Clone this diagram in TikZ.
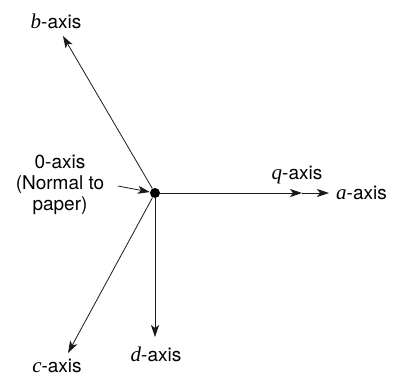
\documentclass[tikz,border=0pt]{standalone}
\usepackage{fontspec}
\setmainfont{TeX Gyre Heros}
\newfontfamily\letterfont{Liberation Serif}
\usepackage{tikz}
\usetikzlibrary{arrows.meta}
\definecolor{axisline}{HTML}{1A1A1A}
\newcommand{\labelfont}{\fontsize{19}{21}\selectfont}
\newcommand{\axletter}[1]{{\letterfont\itshape\fontsize{21}{21}\selectfont #1}}

\begin{document}
\begin{tikzpicture}[x=1pt, y=-1pt,
  axis/.style={draw=axisline, line width=0.8pt,
               -{Stealth[length=12pt, width=8pt, inset=3pt]}},
  axislabel/.style={inner sep=0pt, font=\labelfont}]
\useasboundingbox (0,0) rectangle (397,376);
\node[circle, fill=black, inner sep=0pt, minimum size=10pt] (origin) at (155,193) {};
% tips of the axes
\coordinate (btip) at (63,36);
\coordinate (ctip) at (68,353);
\coordinate (dtip) at (155,337);
\coordinate (qtip) at (302,193);
\coordinate (atip) at (329,193);
\coordinate (zstart) at (118,186);
\draw[axis] (origin) -- (btip);
\draw[axis] (origin) -- (ctip);
\draw[axis] (origin) -- (dtip);
\draw[axis] (origin) -- (qtip);
\draw[axis] (qtip) -- (atip);
\draw[axis] (zstart) -- (origin);
% labels
\node[axislabel] (blabel) at (56,21) {\axletter{b}-axis};
\node[axislabel] (clabel) at (57,366) {\axletter{c}-axis};
\node[axislabel] (dlabel) at (156,354) {\axletter{d}-axis};
\node[axislabel] (qlabel) at (297,175) {\axletter{q}-axis};
\node[axislabel, anchor=west] (alabel) at (336,193) {\axletter{a}-axis};
\node[axislabel, align=center] (zlabel) at (60,185) {0-axis\\(Normal to\\paper)};
\end{tikzpicture}
\end{document}
